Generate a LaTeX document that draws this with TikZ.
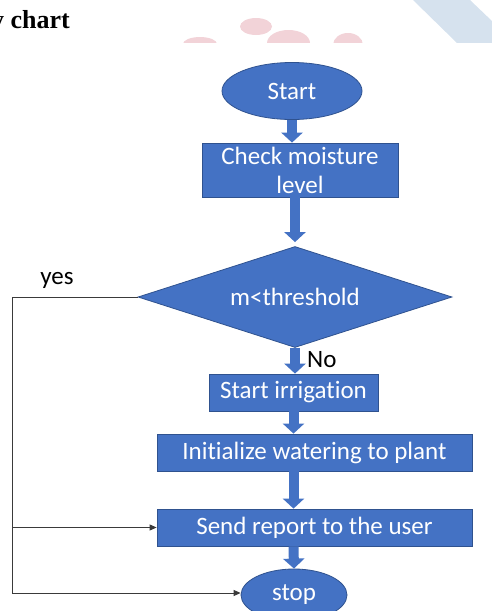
\documentclass[tikz,border=0pt]{standalone}
\usepackage{fontspec}
\setmainfont{Carlito}[Ligatures=NoCommon]
\newfontfamily\hdrfont{Liberation Serif}
\usetikzlibrary{shapes.geometric,arrows.meta}
\definecolor{offblue}{HTML}{4472C4}
\definecolor{offedge}{HTML}{2F528F}
\definecolor{pinkblob}{HTML}{F2D3D8}
\definecolor{bandblue}{HTML}{D6E2EE}
\definecolor{linegray}{HTML}{3A3A3A}
\tikzset{
  flowfont/.style={font=\fontsize{25}{29}\selectfont},
  flowbox/.style={rectangle,fill=offblue,draw=offedge,line width=0.8pt,text=white,inner sep=0pt,align=center,flowfont},
  flowoval/.style={ellipse,fill=offblue,draw=offedge,line width=0.8pt,text=white,inner sep=0pt,flowfont},
  flowdec/.style={diamond,fill=offblue,draw=offedge,line width=0.8pt,text=white,inner sep=0pt,flowfont},
  blockarrow/.style={draw=offblue,line width=10pt,-{Triangle[width=21pt,length=10pt]}},
  thinarrow/.style={draw=linegray,line width=0.8pt,-{Triangle[length=7pt,width=6pt]}},
  lbl/.style={text=black,inner sep=0pt,flowfont}
}
\begin{document}
\begin{tikzpicture}[x=1pt,y=-1pt]
\useasboundingbox (0,0) rectangle (492,611);
\clip (0,0) rectangle (492,611);
% background decoration at the top
\fill[bandblue] (413,0) -- (470,0) -- (515,43) -- (457,43) -- cycle;
\begin{scope}
\clip (0,0) rectangle (492,43);
\fill[pinkblob] (256,26.5) ellipse (16 and 8.5);
\fill[pinkblob] (288.5,43) ellipse (21.5 and 13);
\fill[pinkblob] (200,44) ellipse (17 and 7);
\fill[pinkblob] (348,45) ellipse (15 and 12);
\end{scope}
\fill[white] (0,43) rectangle (492,611);
\node[anchor=base west,inner sep=0pt,font=\hdrfont\bfseries\fontsize{26}{30}\selectfont] (hdr) at (-9,28) {y chart};
% nodes
\node[flowoval,minimum width=140pt,minimum height=57pt] (start) at (292,91) {Start};
\node[flowbox,minimum width=196pt,minimum height=54pt] (check) at (300,170) {Check moisture\\level};
\node[flowdec,minimum width=314pt,minimum height=101pt,aspect=3.1] (dec) at (295,297) {m<threshold};
\node[flowbox,minimum width=169pt,minimum height=37pt] (irr) at (293.5,392.5) {Start irrigation};
\node[flowbox,minimum width=315pt,minimum height=37pt] (init) at (314.5,452.5) {Initialize watering to plant};
\node[flowbox,minimum width=315pt,minimum height=37pt] (send) at (314.5,527.5) {Send report to the user};
\node[flowoval,minimum width=106pt,minimum height=52pt] (stop) at (294,595) {stop};
% labels
\node[lbl] (yes) at (57,280) {yes};
\node[lbl,anchor=west] (no) at (307,360) {No};
% block arrows
\draw[blockarrow] (start.south) -- (start.south |- check.north);
\draw[blockarrow,shorten >=4pt] (dec.north |- check.south) -- (dec.north);
\draw[blockarrow] (dec.south) -- (dec.south |- irr.north);
\draw[blockarrow] (irr.south) -- (irr.south |- init.north);
\draw[blockarrow] (irr.south |- init.south) -- (irr.south |- send.north);
\draw[blockarrow] (irr.south |- send.south) -- (stop.north);
% yes branch
\coordinate (ytop) at (12,297);
\coordinate (ybot) at (12,593);
\coordinate (ymid) at (12,527.5);
\draw[draw=linegray,line width=0.8pt] (dec.west) -- (ytop) -- (ybot);
\draw[thinarrow] (ybot) -- (ybot -| stop.west);
\draw[thinarrow] (ymid) -- (send.west);
\end{tikzpicture}
\end{document}
